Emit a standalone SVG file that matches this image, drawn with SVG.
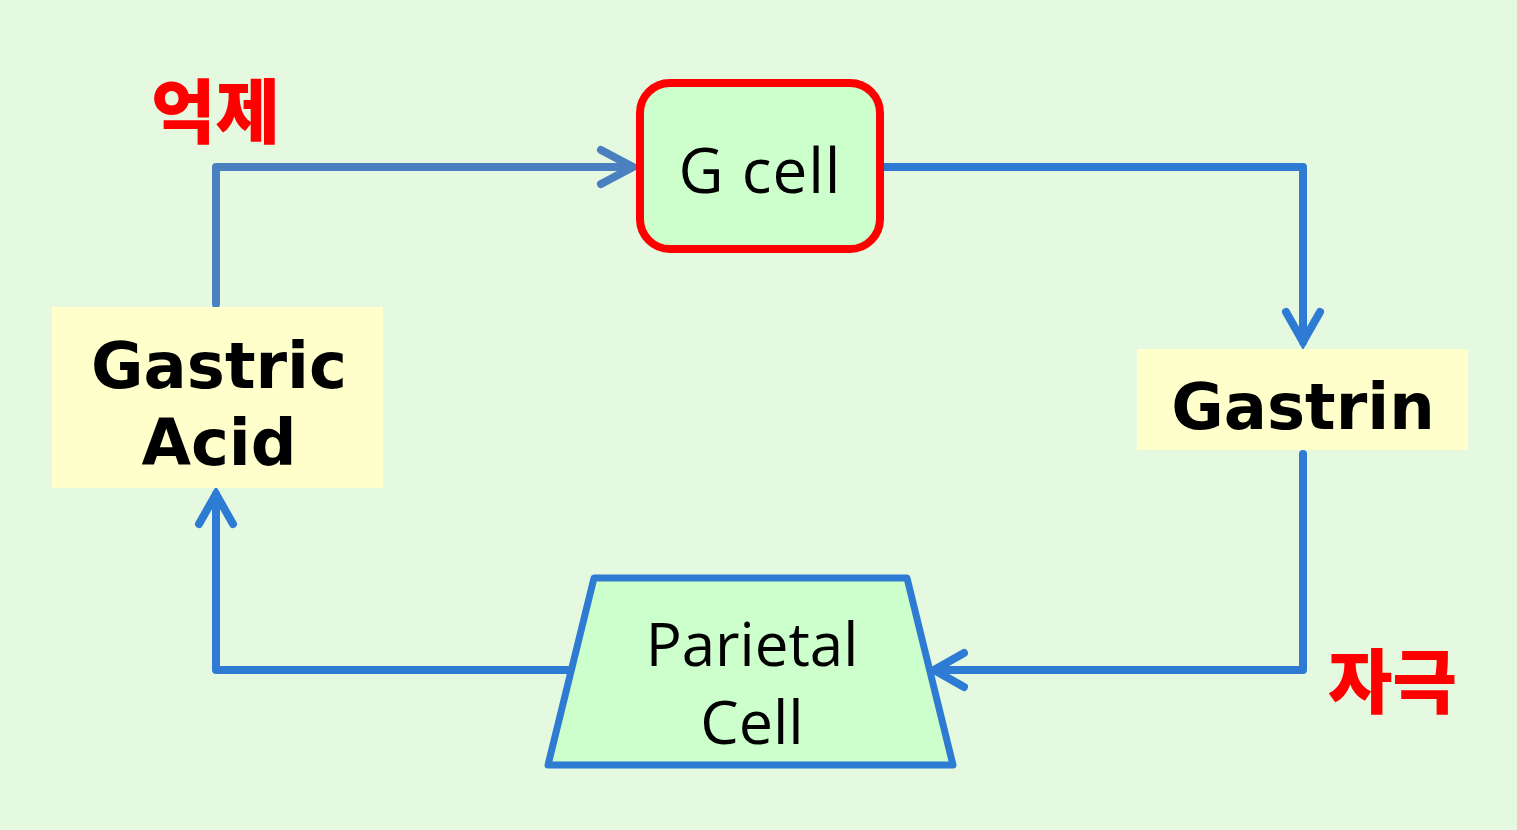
<svg xmlns="http://www.w3.org/2000/svg" width="1517" height="830" viewBox="0 0 1517 830">
<defs>
<style>
.conn{fill:none;stroke-width:8;stroke-linejoin:round;stroke-linecap:round}
.c1{stroke:#4a7fc0}
.c2{stroke:#2e7bd4}
.head{fill:none;stroke-width:8;stroke-linecap:round;stroke-linejoin:miter}
.bold{font-family:"DejaVu Sans","Liberation Sans",sans-serif;font-weight:bold;fill:#000;text-anchor:middle}
.light{font-family:"Open Sans","Noto Sans",sans-serif;fill:#000;text-anchor:middle}
.kr{font-family:"Noto Sans CJK KR",sans-serif;font-weight:900;fill:#ff0000}
</style>
</defs>
<rect width="1517" height="830" fill="#e5f9e1"/>
<g id="connectors">
<path class="conn c1" d="M216 304 V167 H632"/>
<path class="head c1" d="M601 150 L633 167 L601 184"/>
<path class="conn c2" d="M882 167 H1303 V342"/>
<path class="head c2" d="M1286 312 L1303 342 L1320 312"/>
<path class="conn c2" d="M1303 454 V670 H934"/>
<path class="head c2" d="M964 653 L934 670 L964 687"/>
<path class="conn c2" d="M568 670 H216 V494"/>
<path class="head c2" d="M199 524 L216 494 L233 524"/>
</g>
<g id="gcell">
<rect x="640" y="83" width="240" height="166" rx="30" fill="#ccffcc" stroke="#ff0000" stroke-width="8"/>
<text class="light" x="760" y="193" font-size="62" letter-spacing="1">G cell</text>
</g>
<g id="gastrin">
<rect x="1137" y="349" width="331" height="101" fill="#ffffcc"/>
<text class="bold" x="1303" y="429" font-size="64">Gastrin</text>
</g>
<g id="parietal">
<path d="M594 578 H907 L953 765 H548 Z" fill="#ccffcc" stroke="#2e7bd4" stroke-width="7" stroke-linejoin="round"/>
<text class="light" x="752" y="666" font-size="60">Parietal</text>
<text class="light" x="752" y="744" font-size="61">Cell</text>
</g>
<g id="gastricacid">
<rect x="52" y="307" width="331" height="181" fill="#ffffcc"/>
<text class="bold" x="219" y="388" font-size="64">Gastric</text>
<text class="bold" x="219" y="465" font-size="64">Acid</text>
</g>
<g id="labels">
<text class="kr" x="151" y="138" font-size="70">억제</text>
<text class="kr" x="1328" y="708" font-size="70">자극</text>
</g>
</svg>
